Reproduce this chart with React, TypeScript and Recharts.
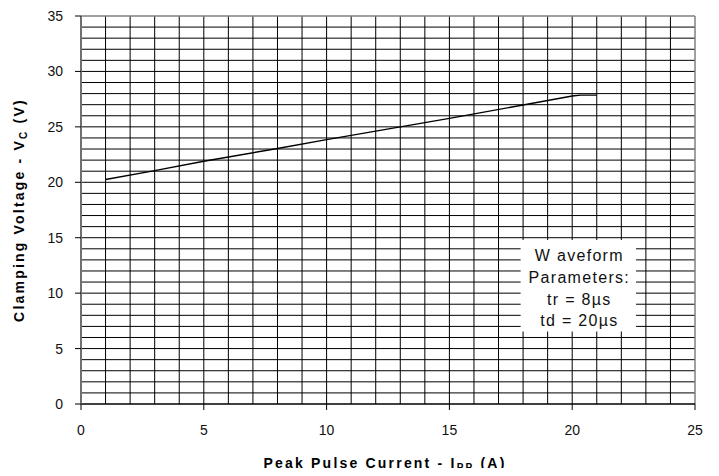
import React from 'react';
import { LineChart, Line, XAxis, YAxis, ReferenceLine, ReferenceArea, Label } from 'recharts';

const currents = [1, 3, 5, 8, 10, 13, 15, 18, 20, 20.35, 21];
const voltages = [20.25, 21.05, 21.9, 23.05, 23.85, 25.0, 25.77, 26.97, 27.78, 27.86, 27.86];

const xTicks = [0, 5, 10, 15, 20, 25];
const yTicks = [0, 5, 10, 15, 20, 25, 30, 35];
const xGridValues = [1, 2, 3, 4, 5, 6, 7, 8, 9, 10, 11, 12, 13, 14, 15, 16, 17, 18, 19, 20, 21, 22, 23, 24];
const yGridValues = [1, 2, 3, 4, 5, 6, 7, 8, 9, 10, 11, 12, 13, 14, 15, 16, 17, 18, 19, 20, 21, 22, 23, 24, 25, 26, 27, 28, 29, 30, 31, 32, 33, 34];
const boxLines = ['W aveform', 'Parameters:', 'tr = 8\u00b5s', 'td = 20\u00b5s'];
const boxX = [17.9, 22.6];
const boxY = [6.55, 14.8];

const data = currents.map((c, i) => ({ current: c, voltage: voltages[i] }));

const FONT = '"Liberation Sans", Arial, sans-serif';

function XTitle(props: any) {
  const vb = props.viewBox || { x: 73, y: 404, width: 614, height: 30 };
  const cx = vb.x + vb.width / 2 - 3;
  return (
    <text x={cx} y={vb.y + 64} textAnchor="middle" fontFamily={FONT} fontWeight="bold" fontSize={14} letterSpacing={2.2} fill="#000">
      Peak Pulse Current - I<tspan fontSize={10} dy={3}>PP</tspan><tspan dy={-3}> (A)</tspan>
    </text>
  );
}

function YTitle(props: any) {
  const vb = props.viewBox || { x: 0, y: 16, width: 73, height: 388 };
  const cx = vb.x + 16;
  const cy = vb.y + vb.height / 2;
  return (
    <text x={cx} y={cy} transform={`rotate(-90 ${cx} ${cy})`} textAnchor="middle" fontFamily={FONT} fontWeight="bold" fontSize={14} letterSpacing={2.2} fill="#000">
      Clamping Voltage - V<tspan fontSize={10} dy={3}>C</tspan><tspan dy={-3}> (V)</tspan>
    </text>
  );
}

function BoxText(props: any) {
  const vb = props.viewBox;
  if (!vb) return null;
  const cx = vb.x + vb.width / 2 + 1;
  const top = vb.y;
  return (
    <g>
      {boxLines.map((t, i) => (
        <text key={i} x={cx} y={top + 21.5 + i * 21.6} textAnchor="middle" fontFamily={FONT} fontSize={16} letterSpacing={1.3} fill="#111">
          {t}
        </text>
      ))}
    </g>
  );
}

export default function App() {
  return (
    <div style={{ marginTop: -8, marginBottom: -8 }}>
      <LineChart width={703} height={476} data={data} margin={{ top: 16, right: 16, bottom: 42, left: 0 }}>
        {xGridValues.map((v) => (
          <ReferenceLine key={'vx' + v} x={v} stroke="#000" strokeWidth={1} zIndex={-60} />
        ))}
        {yGridValues.map((v) => (
          <ReferenceLine key={'hy' + v} y={v} stroke="#000" strokeWidth={1} zIndex={-60} />
        ))}
        <ReferenceLine x={25} stroke="#808080" strokeWidth={1.5} zIndex={-60} />
        <ReferenceLine y={35} stroke="#808080" strokeWidth={1.5} zIndex={-60} />
        <ReferenceArea x1={boxX[0]} x2={boxX[1]} y1={boxY[0]} y2={boxY[1]} fill="#fff" fillOpacity={1} stroke="none" zIndex={50}>
          <Label content={<BoxText />} />
        </ReferenceArea>
        <XAxis
          dataKey="current"
          type="number"
          domain={[0, 25]}
          ticks={xTicks}
          height={30}
          tickSize={6}
          tickMargin={15}
          axisLine={{ stroke: '#000', strokeWidth: 1.5 }}
          tickLine={{ stroke: '#000' }}
          tick={{ fontSize: 14, fill: '#111', fontFamily: FONT }}
          interval={0}
        >
          <Label content={<XTitle />} />
        </XAxis>
        <YAxis
          type="number"
          domain={[0, 35]}
          ticks={yTicks}
          width={73}
          tickSize={6}
          tickMargin={12}
          axisLine={{ stroke: '#707070', strokeWidth: 2 }}
          tickLine={{ stroke: '#000' }}
          tick={{ fontSize: 14, fill: '#111', fontFamily: FONT }}
          interval={0}
        >
          <Label content={<YTitle />} />
        </YAxis>
        <Line type="linear" dataKey="voltage" stroke="#000" strokeWidth={1.4} dot={false} isAnimationActive={false} />
      </LineChart>
    </div>
  );
}
